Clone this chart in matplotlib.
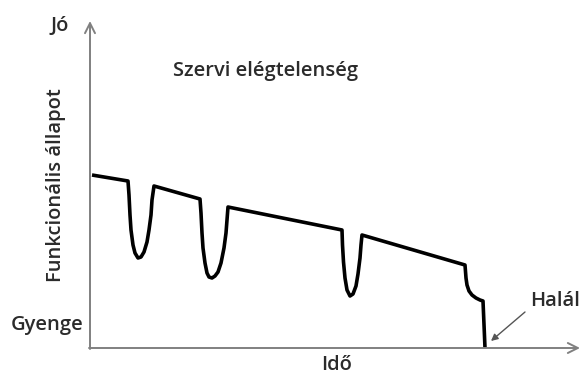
import matplotlib
matplotlib.use("Agg")
import matplotlib.pyplot as plt

# functional state over time (x: time, y: function level, origin at the axes corner)
time = [2, 38, 39, 40, 41, 43, 45, 48, 51, 54, 57, 59, 61, 62, 64,
        110, 111, 112, 113, 115, 117, 119, 122, 125, 128, 131, 134, 136, 137, 138,
        252, 252.5, 253.5, 255, 257, 260, 263, 266, 268, 270, 271, 272,
        375, 376, 377, 379, 382, 386, 390, 393, 395]
state = [173, 167, 153, 133, 118, 103, 95, 90, 91, 96, 106, 118, 133, 148, 162,
         149, 135, 115, 100, 85, 75, 71, 70, 72, 76, 85, 100, 115, 128, 141,
         118, 103, 86, 70, 58, 52, 54, 62, 74, 90, 103, 113,
         83, 70, 63, 57, 53, 50, 48, 47, 0]

axis_labels = {"y": "Funkcionális állapot", "x": "Idő"}
level_labels = {"top": "Jó", "bottom": "Gyenge"}
note = "Szervi elégtelenség"
end_label = "Halál"

plt.rcParams['font.family'] = ['Open Sans', 'DejaVu Sans']

fig = plt.figure(figsize=(5.84, 3.76), dpi=100)
ax = fig.add_axes([0, 0, 1, 1])
ax.set_xlim(-90, 494)
ax.set_ylim(-28, 348)
ax.axis('off')

axis_col = '#808080'
text_col = '#2b2b2b'

# axes with arrow heads
ax.annotate('', xy=(0, 327), xytext=(0, -1),
            arrowprops=dict(arrowstyle='->', color=axis_col, lw=1.4,
                            mutation_scale=18, shrinkA=0, shrinkB=0))
ax.annotate('', xy=(490, 0), xytext=(-1, 0),
            arrowprops=dict(arrowstyle='->', color=axis_col, lw=1.4,
                            mutation_scale=18, shrinkA=0, shrinkB=0))

ax.plot(time, state, color='black', lw=2.6, solid_joinstyle='round',
        solid_capstyle='butt')

font = dict(color=text_col, fontsize=14.5, fontweight='semibold')
ax.text(-30, 322, level_labels["top"], ha='center', va='center', **font)
ax.text(-43, 23, level_labels["bottom"], ha='center', va='center', **font)
ax.text(-34, 163, axis_labels["y"], rotation=90, ha='center', va='center', **font)
ax.text(247, -17, axis_labels["x"], ha='center', va='center', **font)
ax.text(176, 277, note, ha='center', va='center', **font)
ax.text(465, 47, end_label, ha='center', va='center', **font)

# arrow pointing to the death point
ax.annotate('', xy=(401, 7), xytext=(435, 36),
            arrowprops=dict(arrowstyle='-|>', color='#555555', lw=1.0,
                            mutation_scale=10, shrinkA=0, shrinkB=0))

fig.savefig('out.png', dpi=100)
